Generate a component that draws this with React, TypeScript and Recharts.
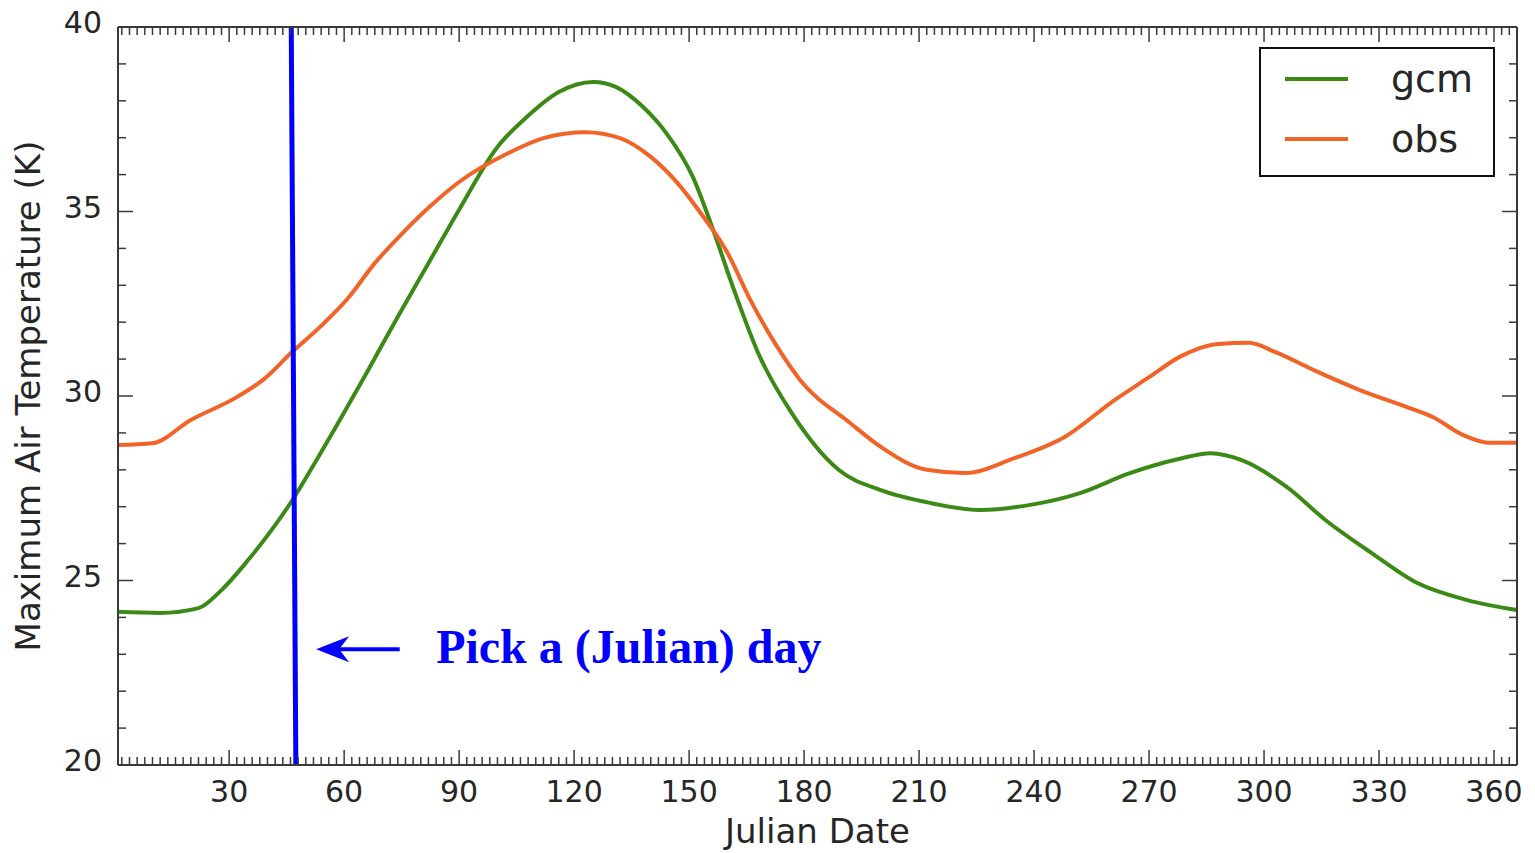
import { LineChart, Line, XAxis, YAxis, Legend, ReferenceLine, ReferenceDot, Label } from "recharts";

// julian day / temperature (K)
const gcmDays = [1, 12, 22, 28, 35, 42, 46, 53, 60, 66, 74, 82, 90, 100, 107, 116, 125, 131, 138, 144, 151, 156, 162, 168, 177, 189, 200, 213, 226, 239, 252, 265, 278, 286, 294, 306, 316, 328, 340, 353, 366];
const gcmTemps = [24.15, 24.12, 24.25, 24.74, 25.56, 26.5, 27.1, 28.3, 29.55, 30.65, 32.15, 33.6, 35.05, 36.75, 37.5, 38.24, 38.51, 38.37, 37.83, 37.13, 35.93, 34.58, 32.79, 31.17, 29.5, 28.0, 27.45, 27.1, 26.91, 27.05, 27.37, 27.91, 28.3, 28.45, 28.27, 27.53, 26.64, 25.75, 24.93, 24.47, 24.2];

const obsDays = [1, 10, 20, 32, 39, 46, 54, 61, 68, 74, 82, 90, 103, 112, 123, 132, 140, 147, 153, 160, 166, 173, 179, 192, 200, 212, 222, 235, 248, 261, 270, 278, 288, 296, 303, 313, 325, 338, 344, 352, 359, 366];
const obsTemps = [28.67, 28.72, 29.35, 29.97, 30.45, 31.15, 31.9, 32.65, 33.6, 34.28, 35.1, 35.8, 36.59, 36.99, 37.15, 36.99, 36.48, 35.77, 34.96, 33.88, 32.6, 31.33, 30.43, 29.27, 28.62, 28.0, 27.91, 28.32, 28.89, 29.89, 30.51, 31.06, 31.41, 31.44, 31.19, 30.7, 30.16, 29.67, 29.43, 28.94, 28.73, 28.73];

const xMajor = [30, 60, 90, 120, 150, 180, 210, 240, 270, 300, 330, 360];
const yMajor = [20, 25, 30, 35, 40];
const xTicks = Array.from({ length: 182 }, (_, i) => 2 + i * 2);
const yTicks = Array.from({ length: 21 }, (_, i) => 20 + i);

// picked day: slightly slanted line in the original
const pickTop = { x: 46.2, y: 40 };
const pickBottom = { x: 47.4, y: 20 };
const arrowFrom = { x: 74.5, y: 23.14 };
const arrowTo = { x: 52.7, y: 23.14 };
const noteAt = { x: 84, y: 22.76 };

const gcmData = gcmDays.map((d, i) => ({ day: d, t: gcmTemps[i] }));
const obsData = obsDays.map((d, i) => ({ day: d, t: obsTemps[i] }));

const GREEN = "#3c8a16";
const ORANGE = "#f26328";
const AXIS = "#3a3a3a";
const TEXT = "#262626";
const FONT = "DejaVu Sans, sans-serif";

const axisLine = { stroke: AXIS, strokeWidth: 2 };

function XTick(p: any) {
  const { x, y, payload, side } = p;
  const major = xMajor.includes(payload.value);
  const len = major ? 15 : 8;
  const dir = side === "bottom" ? -1 : 1;
  return (
    <g>
      <line x1={x} x2={x} y1={y} y2={y + dir * len} stroke={AXIS} strokeWidth={1.5} />
      {side === "bottom" && major && (
        <text x={x} y={y + 37} textAnchor="middle" fontSize={30} fontFamily={FONT} fill={TEXT}>
          {payload.value}
        </text>
      )}
    </g>
  );
}

function YTick(p: any) {
  const { x, y, payload, side } = p;
  const major = yMajor.includes(payload.value);
  const len = major ? 15 : 8;
  const dir = side === "left" ? 1 : -1;
  return (
    <g>
      <line x1={x} x2={x + dir * len} y1={y} y2={y} stroke={AXIS} strokeWidth={1.5} />
      {side === "left" && major && (
        <text x={x - 16} y={y + 6} textAnchor="end" fontSize={30} fontFamily={FONT} fill={TEXT}>
          {payload.value}
        </text>
      )}
    </g>
  );
}

function Arrow(p: any) {
  const tipX = Math.min(p.x1, p.x2);
  const tailX = Math.max(p.x1, p.x2);
  const y = p.y1;
  return (
    <g>
      <line x1={tipX + 20} x2={tailX} y1={y} y2={y} stroke="#0000ff" strokeWidth={4} />
      <path d={`M${tipX},${y} L${tipX + 33},${y - 13} L${tipX + 23},${y} L${tipX + 33},${y + 13} Z`} fill="#0000ff" />
    </g>
  );
}

function Note(p: any) {
  return (
    <text x={p.cx} y={p.cy} fontSize={48} fontWeight="bold" fontFamily="Liberation Serif, serif" fill="#0000ff">
      Pick a (Julian) day
    </text>
  );
}

function LegendBox() {
  return (
    <svg width={236} height={130} style={{ display: "block" }}>
      <rect x={1} y={1} width={234} height={128} fill="#fff" stroke="#111" strokeWidth={2} />
      <line x1={26} x2={89} y1={32} y2={32} stroke={GREEN} strokeWidth={4} />
      <text x={132} y={45} fontSize={38} fontFamily={FONT} fill={TEXT}>gcm</text>
      <line x1={26} x2={89} y1={92} y2={92} stroke={ORANGE} strokeWidth={4} />
      <text x={132} y={105} fontSize={38} fontFamily={FONT} fill={TEXT}>obs</text>
    </svg>
  );
}

export default function App() {
  return (
    <div style={{ position: "absolute", left: 0, top: 0, width: 1535, height: 853, background: "#fff" }}>
      <LineChart width={1535} height={853} margin={{ top: 26, right: 17, bottom: 0, left: 0 }}>
        <XAxis
          type="number"
          dataKey="day"
          domain={[1, 366]}
          allowDataOverflow
          ticks={xTicks}
          interval={0}
          height={88}
          tickSize={0}
          tickMargin={0}
          tickLine={false}
          axisLine={axisLine}
          tick={(p: any) => <XTick {...p} side="bottom" />}
        >
          <Label
            content={(p: any) => (
              <text
                x={p.viewBox.x + p.viewBox.width / 2}
                y={843}
                textAnchor="middle"
                fontSize={34}
                fontFamily={FONT}
                fill={TEXT}
              >
                Julian Date
              </text>
            )}
          />
        </XAxis>
        <XAxis
          xAxisId="top"
          orientation="top"
          type="number"
          dataKey="day"
          domain={[1, 366]}
          allowDataOverflow
          ticks={xTicks}
          interval={0}
          height={1}
          tickSize={0}
          tickMargin={0}
          tickLine={false}
          axisLine={axisLine}
          tick={(p: any) => <XTick {...p} side="top" />}
        />
        <YAxis
          type="number"
          domain={[20, 40]}
          allowDataOverflow
          ticks={yTicks}
          interval={0}
          width={118}
          tickSize={0}
          tickMargin={0}
          tickLine={false}
          axisLine={axisLine}
          tick={(p: any) => <YTick {...p} side="left" />}
        >
          <Label
            content={(p: any) => {
              const cy = p.viewBox.y + p.viewBox.height / 2;
              return (
                <text
                  x={28}
                  y={cy}
                  transform={`rotate(-90 28 ${cy})`}
                  textAnchor="middle"
                  dominantBaseline="central"
                  fontSize={34}
                  fontFamily={FONT}
                  fill={TEXT}
                >
                  Maximum Air Temperature (K)
                </text>
              );
            }}
          />
        </YAxis>
        <YAxis
          yAxisId="right"
          orientation="right"
          type="number"
          domain={[20, 40]}
          allowDataOverflow
          ticks={yTicks}
          interval={0}
          width={1}
          tickSize={0}
          tickMargin={0}
          tickLine={false}
          axisLine={axisLine}
          tick={(p: any) => <YTick {...p} side="right" />}
        />
        <Legend
          layout="vertical"
          align="center"
          verticalAlign="middle"
          wrapperStyle={{ left: 1259, top: 47, width: 236, height: 130 }}
          content={() => <LegendBox />}
        />
        <Line
          data={gcmData}
          dataKey="t"
          name="gcm"
          type="monotone"
          stroke={GREEN}
          strokeWidth={4}
          dot={false}
          isAnimationActive={false}
        />
        <Line
          data={obsData}
          dataKey="t"
          name="obs"
          type="monotone"
          stroke={ORANGE}
          strokeWidth={4}
          dot={false}
          isAnimationActive={false}
        />
        <ReferenceLine segment={[pickTop, pickBottom]} stroke="#0000ff" strokeWidth={5} ifOverflow="visible" />
        <ReferenceLine segment={[arrowFrom, arrowTo]} shape={(p: any) => <Arrow {...p} />} ifOverflow="visible" />
        <ReferenceDot x={noteAt.x} y={noteAt.y} r={0} shape={(p: any) => <Note {...p} />} ifOverflow="visible" />
      </LineChart>
    </div>
  );
}
